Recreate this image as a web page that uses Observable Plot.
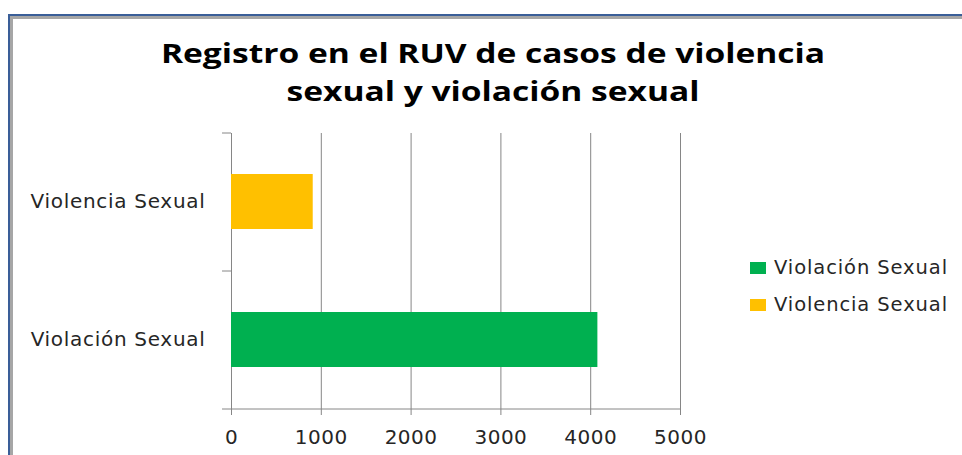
<!DOCTYPE html>
<html>
<head>
<meta charset="utf-8">
<script src="https://cdn.jsdelivr.net/npm/d3@7"></script>
<script src="https://cdn.jsdelivr.net/npm/@observablehq/plot@0.6"></script>
<style>
  html, body { margin: 0; padding: 0; background: #fff; }
  #wrap { position: relative; width: 962px; height: 455px; overflow: hidden; background: #fff; }
  #frameOuter { position: absolute; left: 8px; top: 14px; width: 1200px; height: 800px;
    border-left: 2px solid #3a5e98; border-top: 2px solid #3a5e98; }
  #frameInner { position: absolute; left: 0; top: 0; width: 100%; height: 100%;
    border-left: 3px solid #a6a6a6; border-top: 3px solid #a6a6a6; box-sizing: border-box; }
  #title { position: absolute; left: 0; top: 34px; width: 986px; text-align: center;
    font-family: "Open Sans", sans-serif; font-weight: 700; font-size: 26px; line-height: 38px; color: #000;
    transform: scaleX(1.29); transform-origin: 493px 0; }
  #chart { position: absolute; left: 0; top: 120px; }
  #legend { position: absolute; left: 750px; top: 249px; font-family: "DejaVu Sans", sans-serif;
    font-size: 19.5px; color: #262626; letter-spacing: 0.9px; }
  .item { display: flex; align-items: center; height: 37px; white-space: nowrap; }
  .sw { width: 16px; height: 12px; margin-right: 8px; }
</style>
</head>
<body>
<div id="wrap">
  <div id="frameOuter"><div id="frameInner"></div></div>
  <div id="title"></div>
  <div id="chart"></div>
  <div id="legend"></div>
</div>
<script>
const titleLines = ["Registro en el RUV de casos de violencia", "sexual y violación sexual"];
const categories = ["Violencia Sexual", "Violación Sexual"];
const values = [910, 4080];
const colors = ["#FFC000", "#00B050"];
const legendOrder = ["Violación Sexual", "Violencia Sexual"];
const xTicks = [0, 1000, 2000, 3000, 4000, 5000];

document.getElementById("title").innerHTML = titleLines.join("<br>");

const data = categories.map((c, i) => ({category: c, value: values[i], color: colors[i]}));

const chart = Plot.plot({
  width: 962,
  height: 335,
  marginLeft: 231,
  marginRight: 282,
  marginTop: 13,
  marginBottom: 46,
  style: {fontFamily: "DejaVu Sans, sans-serif", fontSize: "20px", color: "#262626", background: "transparent"},
  x: {domain: [0, 5000], ticks: xTicks, tickFormat: d => String(d), tickSize: 6, tickPadding: 14, label: null},
  y: {domain: categories, paddingInner: 0.6, paddingOuter: 0.3, tickSize: 0, tickPadding: 26, label: null},
  marks: [
    Plot.ruleX(xTicks, {stroke: "#868686", strokeWidth: 1}),
    Plot.barX(data, {y: "category", x: "value", fill: "color"}),
    // category boundary ticks on the y axis
    Plot.ruleY([categories[0]], {x1: -100, x2: 0, dy: -69, stroke: "#868686"}),
    Plot.ruleY([categories[1]], {x1: -100, x2: 0, dy: -69, stroke: "#868686"}),
    Plot.ruleY([categories[1]], {x1: -100, x2: 5000, dy: 69, stroke: "#868686"})
  ]
});
chart.querySelectorAll("[aria-label='x-axis tick'] path, [aria-label='x-axis tick'] line").forEach(e => e.setAttribute("stroke", "#868686"));
chart.querySelectorAll("[aria-label='y-axis tick label'] text").forEach(t => t.style.letterSpacing = "0.7px");
chart.querySelectorAll("[aria-label='x-axis tick label'] text").forEach(t => t.style.letterSpacing = "0.5px");
document.getElementById("chart").appendChild(chart);

const legend = document.getElementById("legend");
legendOrder.forEach(name => {
  const i = categories.indexOf(name);
  const row = document.createElement("div");
  row.className = "item";
  row.innerHTML = `<span class="sw" style="background:${colors[i]}"></span><span>${name}</span>`;
  legend.appendChild(row);
});
</script>
</body>
</html>
